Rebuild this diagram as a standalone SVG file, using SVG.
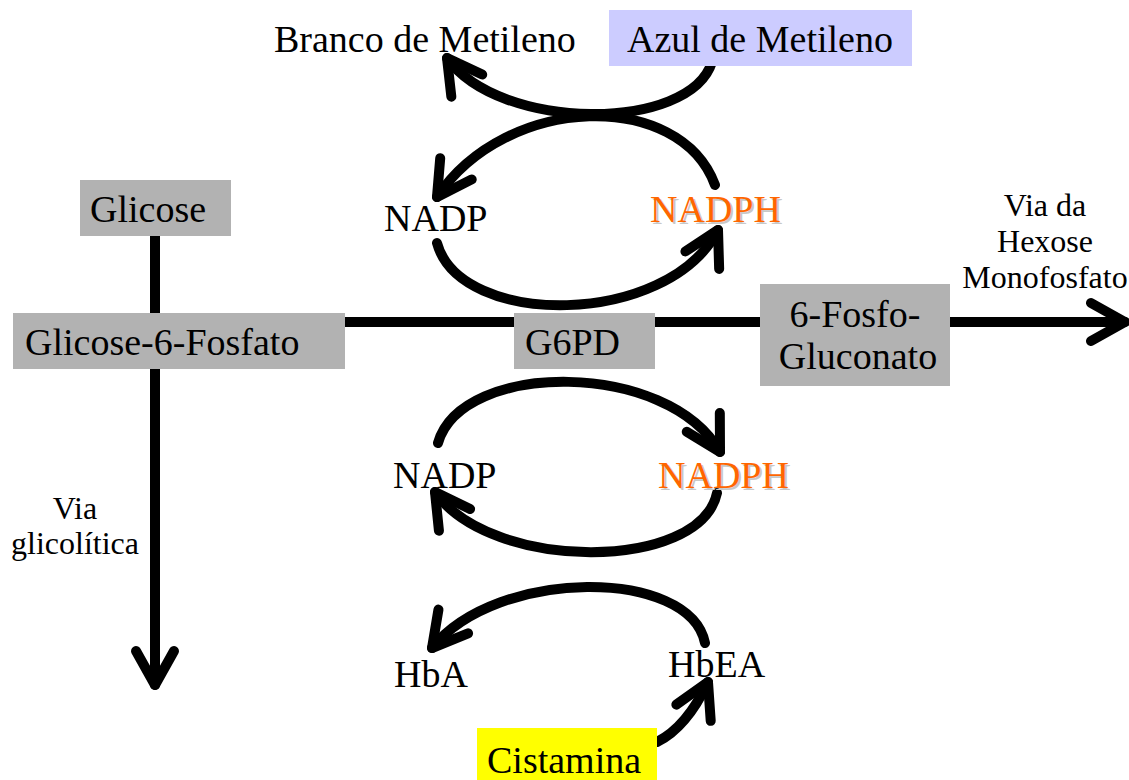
<svg xmlns="http://www.w3.org/2000/svg" width="1129" height="780" viewBox="0 0 1129 780">
  <style>
    text { font-family: "Liberation Serif", "Times New Roman", serif; fill: #000; }
    .big { font-size: 38px; }
    .small { font-size: 32px; }
    .mid { text-anchor: middle; }
    .orange { fill: #FF6600; }
    .shadow { fill: #C8C8C8; }
    .box { fill: #B2B2B2; }
    .flow { fill: none; stroke: #000; stroke-width: 10; stroke-linecap: round; stroke-linejoin: round; }
  </style>
  <defs>
    <marker id="chevron" markerUnits="userSpaceOnUse" orient="auto" markerWidth="1" markerHeight="1" refX="0" refY="0" overflow="visible">
      <path d="M-34,-19 L0,0 L-34,19" fill="none" stroke="#000" stroke-width="10" stroke-linecap="round" stroke-linejoin="round"/>
    </marker>
  </defs>

  <rect width="1129" height="780" fill="#fff"/>

  <!-- connectors -->
  <g id="connectors">
    <!-- main pathway lines -->
    <path class="flow" d="M345,322 L1125,322" marker-end="url(#chevron)"/>
    <path class="flow" d="M155,236 L155,685" marker-end="url(#chevron)"/>
    <!-- methylene blue reduction -->
    <path class="flow" d="M712,62 C690,132 500,132 447,58" marker-end="url(#chevron)"/>
    <!-- upper NADP / NADPH cycle -->
    <path class="flow" d="M715,185 C680,90 507,93 437,197" marker-end="url(#chevron)"/>
    <path class="flow" d="M437,243 C460,328 667,328 718,230" marker-end="url(#chevron)"/>
    <!-- lower NADP / NADPH cycle -->
    <path class="flow" d="M438,443 C462,360 668,360 720,452" marker-end="url(#chevron)"/>
    <path class="flow" d="M717,493 C700,572 491,572 435,492" marker-end="url(#chevron)"/>
    <!-- haemoglobin cycle -->
    <path class="flow" d="M705,643 C690,568 497,567 432,648" marker-end="url(#chevron)"/>
    <path class="flow" d="M657,742 C675,733 692,716 708,682" marker-end="url(#chevron)"/>
  </g>

  <g id="branco">
    <text class="big" x="274" y="52">Branco de Metileno</text>
  </g>
  <g id="azul">
    <rect x="609" y="10" width="303" height="56" fill="#CCCCFF"/>
    <text class="big" x="627" y="52">Azul de Metileno</text>
  </g>
  <g id="glicose">
    <rect class="box" x="80" y="180" width="151" height="56"/>
    <text class="big" x="90" y="222">Glicose</text>
  </g>
  <g id="glicose6p">
    <rect class="box" x="13" y="313" width="332" height="56"/>
    <text class="big" x="25" y="355">Glicose-6-Fosfato</text>
  </g>
  <g id="g6pd">
    <rect class="box" x="514" y="313" width="141" height="56"/>
    <text class="big" x="525" y="355">G6PD</text>
  </g>
  <g id="fosfogluconato">
    <rect class="box" x="760" y="284" width="190" height="102"/>
    <text class="big mid" x="855" y="327">6-Fosfo-</text>
    <text class="big mid" x="858" y="369">Gluconato</text>
  </g>
  <g id="via-hexose">
    <text class="small mid" x="1045" y="216">Via da</text>
    <text class="small mid" x="1045" y="252">Hexose</text>
    <text class="small mid" x="1045" y="288">Monofosfato</text>
  </g>
  <g id="via-glicolitica">
    <text class="small mid" x="75" y="519">Via</text>
    <text class="small mid" x="75" y="554">glicolítica</text>
  </g>
  <g id="nadp-top">
    <text class="big" x="384" y="231">NADP</text>
  </g>
  <g id="nadph-top">
    <text class="big shadow" x="652" y="224">NADPH</text>
    <text class="big orange" x="650" y="222">NADPH</text>
  </g>
  <g id="nadp-bottom">
    <text class="big" x="393" y="488">NADP</text>
  </g>
  <g id="nadph-bottom">
    <text class="big shadow" x="660" y="490">NADPH</text>
    <text class="big orange" x="658" y="488">NADPH</text>
  </g>
  <g id="hba">
    <text class="big" x="394" y="687">HbA</text>
  </g>
  <g id="hbea">
    <text class="big" x="668" y="677">HbEA</text>
  </g>
  <g id="cistamina">
    <rect x="477" y="728" width="180" height="52" fill="#FFFF00"/>
    <text class="big" x="487" y="773">Cistamina</text>
  </g>
</svg>
